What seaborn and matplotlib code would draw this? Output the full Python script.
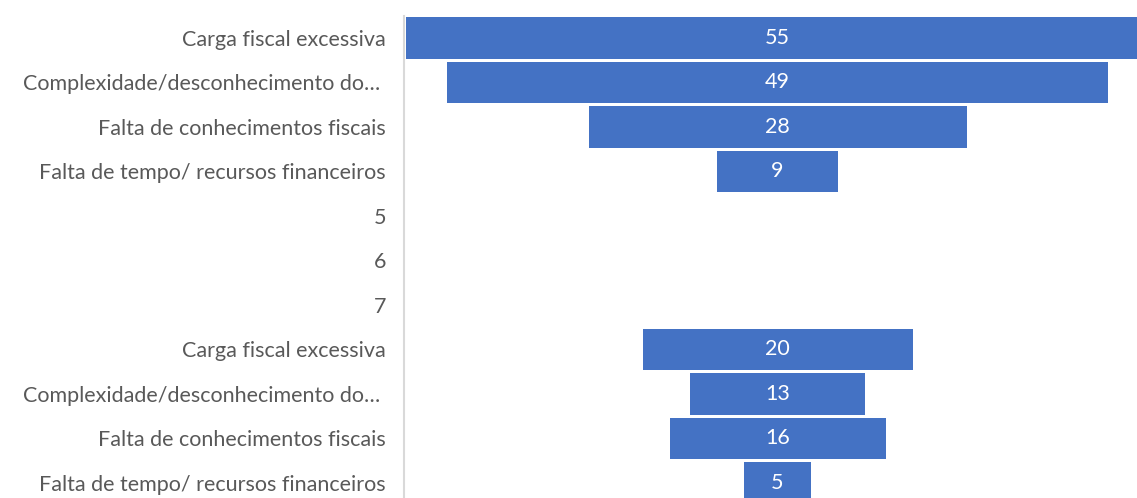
import numpy as np
import pandas as pd
import matplotlib.pyplot as plt
import seaborn as sns

# Funnel data (top to bottom)
labels = ['Carga fiscal excessiva', 'Complexidade/desconhecimento do… ',
          'Falta de conhecimentos fiscais', 'Falta de tempo/ recursos financeiros',
          '5', '6', '7',
          'Carga fiscal excessiva', 'Complexidade/desconhecimento do… ',
          'Falta de conhecimentos fiscais', 'Falta de tempo/ recursos financeiros']
values = [55, 49, 28, 9, np.nan, np.nan, np.nan, 20, 13, 16, 5]

blue = '#4472C4'
grey_txt = '#595959'

df = pd.DataFrame({'row': [str(i) for i in range(len(labels))], 'value': values})
df['half'] = df['value'] / 2
df['neg'] = -df['value'] / 2

sns.set_style('white')
plt.rcParams['font.family'] = ['Lato', 'DejaVu Sans']

fig = plt.figure(figsize=(11.37, 4.98), dpi=100)
ax = fig.add_axes([404 / 1137, -0.0145, 733 / 1137, 0.983])

# funnel: two mirrored bars around zero
sns.barplot(data=df, x='half', y='row', orient='h', color=blue, saturation=1,
            width=0.94, linewidth=0, ax=ax)
sns.barplot(data=df, x='neg', y='row', orient='h', color=blue, saturation=1,
            width=0.94, linewidth=0, ax=ax)

for i, v in enumerate(values):
    if not np.isnan(v):
        ax.text(0, i, f'{int(v)}', ha='center', va='center', color='white', fontsize=15.5)

ax.set_xlim(-27.67, 26.63)
ax.set_ylim(10.5, -0.5)
ax.set_yticks(range(len(labels)))
ax.set_yticklabels(labels, color=grey_txt, fontsize=15.5)
ax.tick_params(axis='y', length=0, pad=13)
ax.set_xticks([])
ax.set_xlabel('')
ax.set_ylabel('')
for s in ['top', 'right', 'bottom']:
    ax.spines[s].set_visible(False)
ax.spines['left'].set_color('#d9d9d9')
ax.spines['left'].set_linewidth(1.5)

fig.savefig('out.png', dpi=100)
